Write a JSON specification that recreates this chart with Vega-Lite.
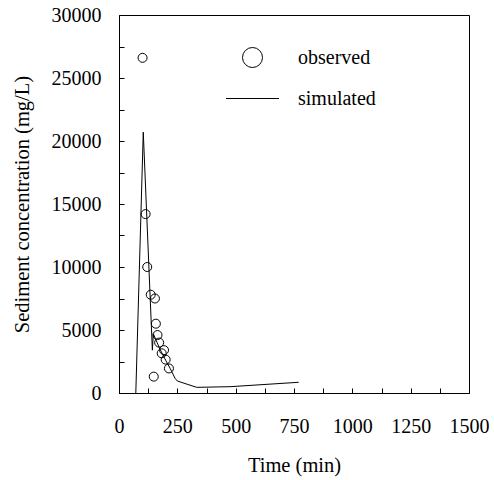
{
  "$schema": "https://vega.github.io/schema/vega-lite/v6.json",
  "width": 350,
  "height": 378,
  "autosize": {"type": "none"},
  "padding": {"left": 119, "top": 15, "right": 25, "bottom": 87},
  "background": "white",
  "config": {
    "font": "Liberation Serif",
    "view": {"stroke": "black", "strokeWidth": 1},
    "axis": {
      "domainColor": "black",
      "tickColor": "black",
      "labelColor": "black",
      "titleColor": "black",
      "labelFont": "Liberation Serif",
      "titleFont": "Liberation Serif",
      "labelFontSize": 20,
      "titleFontSize": 20.5,
      "titleFontWeight": "normal",
      "grid": false
    }
  },
  "datasets": {
    "observed": [
      {"time": 101, "conc": 26600, "series": "observed"},
      {"time": 114, "conc": 14200, "series": "observed"},
      {"time": 121, "conc": 10000, "series": "observed"},
      {"time": 136, "conc": 7800, "series": "observed"},
      {"time": 154, "conc": 7500, "series": "observed"},
      {"time": 149, "conc": 1300, "series": "observed"},
      {"time": 158, "conc": 5500, "series": "observed"},
      {"time": 165, "conc": 4600, "series": "observed"},
      {"time": 172, "conc": 4000, "series": "observed"},
      {"time": 183, "conc": 3150, "series": "observed"},
      {"time": 193, "conc": 3400, "series": "observed"},
      {"time": 200, "conc": 2650, "series": "observed"},
      {"time": 214, "conc": 1950, "series": "observed"}
    ],
    "simulated": [
      {"time": 72, "conc": 0},
      {"time": 104, "conc": 20700},
      {"time": 143, "conc": 3400},
      {"time": 147, "conc": 4700},
      {"time": 175, "conc": 3500},
      {"time": 200, "conc": 2600},
      {"time": 219, "conc": 1960},
      {"time": 240, "conc": 1170},
      {"time": 250, "conc": 950},
      {"time": 333, "conc": 450},
      {"time": 476, "conc": 500},
      {"time": 770, "conc": 850}
    ]
  },
  "resolve": {"axis": {"x": "independent", "y": "independent"}},
  "layer": [
    {
      "data": {"name": "simulated"},
      "mark": {"type": "line", "color": "black", "strokeWidth": 1},
      "encoding": {
        "x": {
          "field": "time", "type": "quantitative",
          "scale": {"domain": [0, 1500], "nice": false, "zero": false},
          "axis": {
            "orient": "bottom",
            "title": "Time (min)",
            "values": [0,250,500,750,1000,1250,1500],
            "format": "d",
            "ticks": false,
            "labelPadding": 23,
            "titlePadding": 19,
            "labelFlush": false
          }
        },
        "y": {
          "field": "conc", "type": "quantitative",
          "scale": {"domain": [0, 30000], "nice": false},
          "axis": {
            "orient": "left",
            "title": "Sediment concentration (mg/L)",
            "values": [0,5000,10000,15000,20000,25000,30000],
            "format": "d",
            "ticks": false,
            "labelPadding": 18,
            "titlePadding": 19,
            "labelFlush": false
          }
        }
      }
    },
    {
      "data": {"name": "observed"},
      "mark": {"type": "point", "filled": false, "color": "black", "strokeWidth": 1, "size": 81, "opacity": 1},
      "encoding": {
        "x": {
          "field": "time", "type": "quantitative",
          "axis": {
            "orient": "bottom",
            "title": null,
            "values": [0,125,250,375,500,625,750,875,1000,1125,1250,1375,1500],
            "labels": false,
            "domain": false,
            "ticks": true,
            "tickSize": 5,
            "offset": -5
          }
        },
        "y": {
          "field": "conc", "type": "quantitative",
          "axis": {
            "orient": "left",
            "title": null,
            "values": [0,2500,5000,7500,10000,12500,15000,17500,20000,22500,25000,27500,30000],
            "labels": false,
            "domain": false,
            "ticks": true,
            "tickSize": 5,
            "offset": -5
          }
        },
        "shape": {
          "field": "series", "type": "nominal",
          "scale": {"domain": ["observed", "simulated"], "range": ["circle", "M-2.65,0H2.65"]},
          "legend": {
            "title": null,
            "orient": "none",
            "legendX": 123,
            "legendY": 32,
            "padding": 0,
            "symbolSize": 400,
            "symbolStrokeColor": "black",
            "symbolFillColor": "transparent",
            "symbolStrokeWidth": 1,
            "symbolOpacity": 1,
            "labelFont": "Liberation Serif",
            "labelFontSize": 20,
            "labelColor": "black",
            "labelOffset": 35,
            "rowPadding": 18,
            "encode": {"symbols": {"update": {"size": {"value": 400}}}}
          }
        }
      }
    }
  ]
}
